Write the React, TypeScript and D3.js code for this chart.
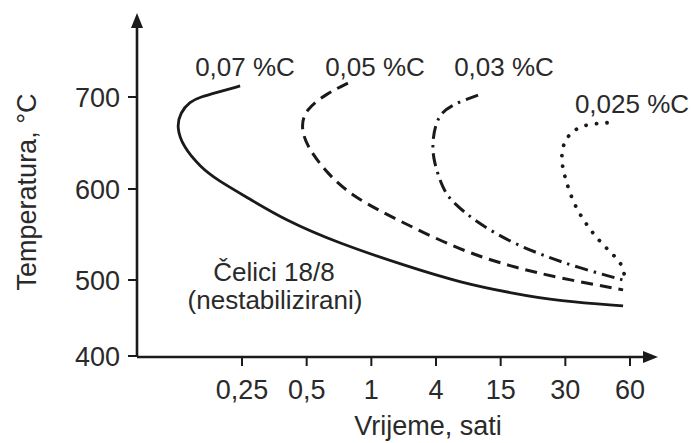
import * as d3 from "d3";

// time ticks (hours) — drawn evenly spaced on the axis
const xTicks = [0.25, 0.5, 1, 4, 15, 30, 60];
const xTickLabels = ["0,25", "0,5", "1", "4", "15", "30", "60"];
// temperature ticks — the 400..500 step is drawn shorter than the others
const yTicks = [400, 500, 600, 700];

// [hours, °C]
const c007 = [
  [0.245, 712], [0.191, 705], [0.16, 700], [0.143, 695], [0.129, 683], [0.124, 667],
  [0.133, 646], [0.16, 624], [0.191, 610], [0.272, 589], [0.396, 566], [0.692, 541],
  [2.29, 514], [6.5, 497], [16.6, 483], [28.3, 472], [55.7, 466],
];
const c005 = [
  [0.778, 715], [0.622, 704], [0.491, 686], [0.47, 667], [0.502, 646], [0.622, 617],
  [0.822, 591], [1.97, 563], [6.5, 533], [16.6, 515], [28.3, 502], [55.7, 487],
];
const c003 = [
  [9.44, 702], [5.32, 691], [4.08, 678], [3.7, 653], [3.75, 632], [4.61, 599],
  [5.66, 585], [9.26, 563], [16.6, 542], [23.6, 527], [34.0, 514], [55.7, 500],
];
const c0025 = [
  [46.9, 672], [37.0, 670], [32.9, 664], [30.2, 655], [28.8, 642], [28.9, 626],
  [30.2, 609], [32.6, 585], [37.0, 563], [43.0, 543], [51.6, 525], [55.7, 515], [56.9, 500],
];

const seriesLabels = ["0,07 %C", "0,05 %C", "0,03 %C", "0,025 %C"];

const ink = "#1a1a1a";
const textCol = "#2a2a2a";
const font = "'Liberation Sans', Arial, sans-serif";

export default function App() {
  const W = 694;
  const H = 443;
  const x0 = 137; // y axis position
  const y0 = 357; // x axis position

  const xs = d3
    .scaleLinear()
    .domain(xTicks.map(Math.log10))
    .range(xTicks.map((_, i) => 242 + i * 64.67));
  const x = (h: number) => xs(Math.log10(h));
  const y = d3.scaleLinear().domain(yTicks).range([356, 280, 189, 97]);

  const line = d3
    .line<number[]>()
    .x((d) => x(d[0]))
    .y((d) => y(d[1]))
    .curve(d3.curveBasis);

  const curves = [
    { data: c007, dash: undefined as string | undefined, cap: "butt", w: 2.8 },
    { data: c005, dash: "12,7", cap: "butt", w: 3 },
    { data: c003, dash: "13,6,2.5,6", cap: "butt", w: 3 },
    { data: c0025, dash: "0.1,10.4", cap: "round", w: 3.8 },
  ];

  const labelPos = [
    { cx: 245, cy: 76 },
    { cx: 375, cy: 76 },
    { cx: 504, cy: 76 },
    { cx: 632, cy: 113 },
  ];

  return (
    <svg
      width={W}
      height={H}
      style={{ position: "absolute", left: 0, top: 0, background: "#fff" }}
      fontFamily={font}
    >
      {/* axes */}
      <line x1={x0} y1={y0} x2={x0} y2={26} stroke={ink} strokeWidth={2.6} />
      <path d={`M${x0},13 L${x0 - 6},28 L${x0 + 6},28 Z`} fill={ink} />
      <line x1={x0} y1={y0} x2={645} y2={y0} stroke={ink} strokeWidth={2.6} />
      <path d={`M658,${y0} L643,${y0 - 6} L643,${y0 + 6} Z`} fill={ink} />

      {yTicks.map((t) => (
        <g key={t}>
          <line x1={x0 - 9} x2={x0} y1={y(t)} y2={y(t)} stroke={ink} strokeWidth={2} />
          <text
            x={x0 - 17}
            y={y(t)}
            dy="0.36em"
            textAnchor="end"
            fontSize={27}
            fill={textCol}
          >
            {t}
          </text>
        </g>
      ))}

      {xTicks.map((t, i) => (
        <g key={t}>
          <line x1={x(t)} x2={x(t)} y1={y0} y2={y0 + 9} stroke={ink} strokeWidth={2} />
          <text x={x(t)} y={399} textAnchor="middle" fontSize={27} fill={textCol}>
            {xTickLabels[i]}
          </text>
        </g>
      ))}

      <text x={428} y={435} textAnchor="middle" fontSize={27} fill={textCol}>
        Vrijeme, sati
      </text>
      <text
        transform="translate(36,192) rotate(-90)"
        textAnchor="middle"
        fontSize={27}
        fill={textCol}
      >
        Temperatura, °C
      </text>

      {/* curves */}
      {curves.map((c, i) => (
        <path
          key={i}
          d={line(c.data) ?? ""}
          fill="none"
          stroke={ink}
          strokeWidth={c.w}
          strokeDasharray={c.dash}
          strokeLinecap={c.cap as "butt" | "round"}
        />
      ))}

      {seriesLabels.map((s, i) => (
        <text
          key={s}
          x={labelPos[i].cx}
          y={labelPos[i].cy}
          textAnchor="middle"
          fontSize={26}
          fill={textCol}
        >
          {s}
        </text>
      ))}

      <text x={274} y={281} textAnchor="middle" fontSize={26} fill={textCol}>
        Čelici 18/8
      </text>
      <text x={275} y={309} textAnchor="middle" fontSize={26} fill={textCol}>
        (nestabilizirani)
      </text>
    </svg>
  );
}
